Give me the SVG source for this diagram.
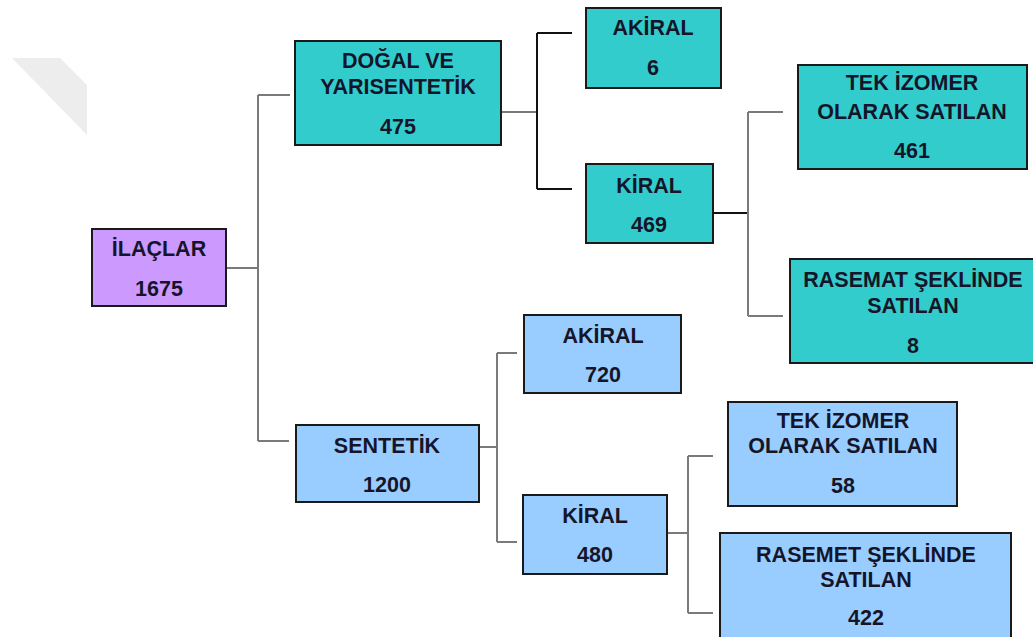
<svg xmlns="http://www.w3.org/2000/svg" width="1033" height="637" viewBox="0 0 1033 637">
<style>
.box{stroke:#1a1a1a;stroke-width:2}
.teal{fill:#33CCCC}
.blue{fill:#99CCFF}
.purple{fill:#CC99FF}
.t{font-family:"Liberation Sans",Arial,sans-serif;font-weight:bold;font-size:21.5px;fill:#15152a;text-anchor:middle}
.g{stroke:#7a7a7a;stroke-width:2;fill:none}
.k{stroke:#111;stroke-width:2;fill:none}
</style>
<rect width="1033" height="637" fill="#ffffff"/>
<polygon points="12,58 60,58 87,85 87,135" fill="#ededed"/>
<g id="connectors">
<path class="g" d="M226,268 H258 M258,95 V441 M258,95 H290 M258,441 H289"/>
<path class="g" d="M501,112 H537"/>
<path class="k" d="M537,33 V189 M537,33 H572 M537,189 H572"/>
<path class="k" d="M713,213 H748"/>
<path class="g" d="M748,112 V316 M748,112 H783 M748,316 H783"/>
<path class="g" d="M479,447 H497 M497,353 V542 M497,353 H517 M497,542 H517"/>
<path class="g" d="M667,533 H688 M688,456 V613 M688,456 H713 M688,613 H713"/>
</g>
<g id="ilaclar">
<rect class="box purple" x="92" y="229" width="134" height="77"/>
<text class="t" x="159" y="256">İLAÇLAR</text>
<text class="t" x="159" y="296">1675</text>
</g>
<g id="dogal">
<rect class="box teal" x="295" y="41" width="206" height="104"/>
<text class="t" x="398" y="68">DOĞAL VE</text>
<text class="t" x="398" y="94">YARISENTETİK</text>
<text class="t" x="398" y="134">475</text>
</g>
<g id="akiral1">
<rect class="box teal" x="586" y="8" width="135" height="80"/>
<text class="t" x="653" y="35">AKİRAL</text>
<text class="t" x="653" y="75">6</text>
</g>
<g id="kiral1">
<rect class="box teal" x="586" y="164" width="127" height="79"/>
<text class="t" x="649" y="193">KİRAL</text>
<text class="t" x="649" y="232">469</text>
</g>
<g id="tek1">
<rect class="box teal" x="798" y="65" width="229" height="104"/>
<text class="t" x="912" y="90">TEK İZOMER</text>
<text class="t" x="912" y="119">OLARAK SATILAN</text>
<text class="t" x="912" y="158">461</text>
</g>
<g id="rasemat1">
<rect class="box teal" x="790" y="259" width="246" height="104"/>
<text class="t" x="913" y="287">RASEMAT ŞEKLİNDE</text>
<text class="t" x="913" y="313">SATILAN</text>
<text class="t" x="913" y="353">8</text>
</g>
<g id="sentetik">
<rect class="box blue" x="296" y="425" width="183" height="77"/>
<text class="t" x="387" y="453">SENTETİK</text>
<text class="t" x="387" y="492">1200</text>
</g>
<g id="akiral2">
<rect class="box blue" x="524" y="315" width="157" height="78"/>
<text class="t" x="603" y="343">AKİRAL</text>
<text class="t" x="603" y="382">720</text>
</g>
<g id="kiral2">
<rect class="box blue" x="523" y="495" width="144" height="79"/>
<text class="t" x="595" y="523">KİRAL</text>
<text class="t" x="595" y="562">480</text>
</g>
<g id="tek2">
<rect class="box blue" x="728" y="402" width="229" height="104"/>
<text class="t" x="843" y="428">TEK İZOMER</text>
<text class="t" x="843" y="453">OLARAK SATILAN</text>
<text class="t" x="843" y="493">58</text>
</g>
<g id="rasemet2">
<rect class="box blue" x="720" y="533" width="291" height="112"/>
<text class="t" x="866" y="562">RASEMET ŞEKLİNDE</text>
<text class="t" x="866" y="587">SATILAN</text>
<text class="t" x="866" y="625">422</text>
</g>
</svg>
